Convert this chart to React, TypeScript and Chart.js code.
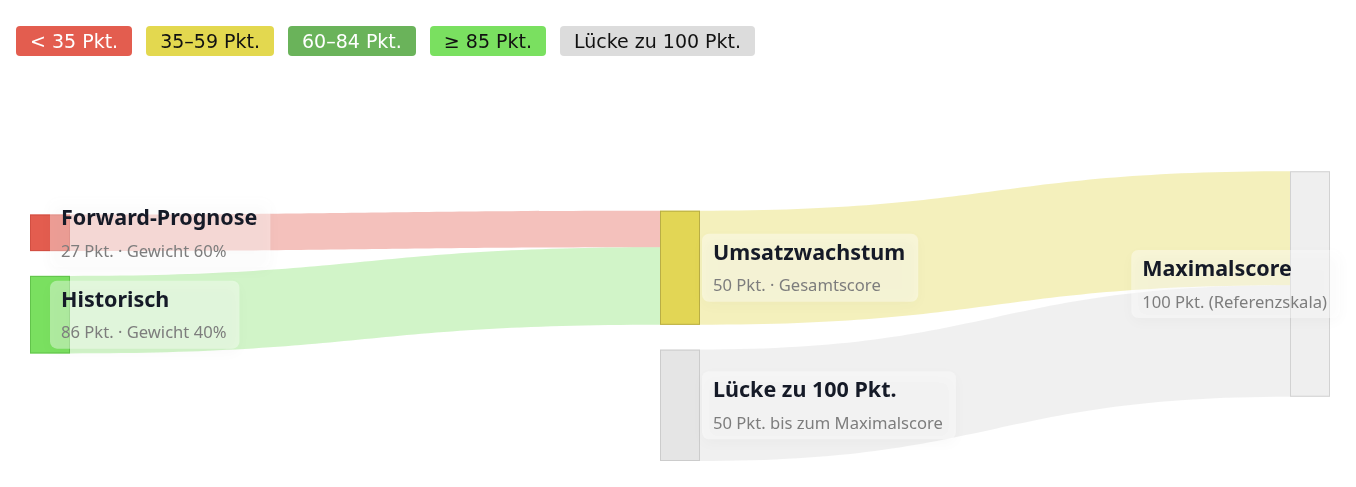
import React, { useEffect, useRef } from 'react';
import { Chart, registerables } from 'chart.js';

Chart.register(...registerables);

// legend badges
const legendLabels = ['< 35 Pkt.', '35–59 Pkt.', '60–84 Pkt.', '≥ 85 Pkt.', 'Lücke zu 100 Pkt.'];

// sankey nodes
const nodeIds = ['forward', 'historisch', 'umsatz', 'luecke', 'max'];
const nodeTitles = ['Forward-Prognose', 'Historisch', 'Umsatzwachstum', 'Lücke zu 100 Pkt.', 'Maximalscore'];
const nodeSubtitles = [
    '27 Pkt. · Gewicht 60%',
    '86 Pkt. · Gewicht 40%',
    '50 Pkt. · Gesamtscore',
    '50 Pkt. bis zum Maximalscore',
    '100 Pkt. (Referenzskala)',
];
const nodeColumns = [0, 0, 1, 1, 2];

// sankey flows (weighted points)
const flowSources = ['forward', 'historisch', 'umsatz', 'luecke'];
const flowTargets = ['umsatz', 'umsatz', 'max', 'max'];
const flowValues = [16.2, 34.4, 50.6, 49.4];

const legendStyles = [
    {bg: '#e35d4f', color: '#ffffff'},
    {bg: '#e3d84f', color: '#111111'},
    {bg: '#6ab35a', color: '#ffffff'},
    {bg: '#7ae060', color: '#111111'},
    {bg: '#dcdcdc', color: '#111111'},
];

const nodeStyles: Record<string, { fill: string; border: string; flow: string }> = {
    forward: {fill: '#e35d4f', border: '#d24f42', flow: 'rgba(227, 93, 79, 0.38)'},
    historisch: {fill: '#7ae060', border: '#62c44b', flow: 'rgba(122, 224, 96, 0.35)'},
    umsatz: {fill: '#e2d655', border: '#b9ae45', flow: 'rgba(227, 216, 79, 0.38)'},
    luecke: {fill: '#e5e5e5', border: '#cccccc', flow: 'rgba(220, 220, 220, 0.42)'},
    max: {fill: '#efefef', border: '#d2d2d2', flow: 'rgba(220, 220, 220, 0.42)'},
};

const NODE_WIDTH = 40;
const NODE_PADDING = 11; // in value units
const Y_MAX = 157;
const columnAlign = ['center', 'end', 'center'];
const TITLE_FONT = 'bold 21.5px "Noto Sans"';
const SUB_FONT = '16.6px "Noto Sans"';

const sankeyPlugin = {
    id: 'sankeyDraw',
    afterDraw(chart: any) {
        const ctx: CanvasRenderingContext2D = chart.ctx;
        const xs = chart.scales.x;
        const ys = chart.scales.y;

        const nodes = nodeIds.map((id, i) => {
            let inSum = 0;
            let outSum = 0;
            flowValues.forEach((v, k) => {
                if (flowTargets[k] === id) inSum += v;
                if (flowSources[k] === id) outSum += v;
            });
            return {id, i, col: nodeColumns[i], value: Math.max(inSum, outSum), v0: 0, v1: 0, x0: 0, x1: 0, y0: 0, y1: 0};
        });
        const byId: Record<string, any> = {};
        nodes.forEach(n => (byId[n.id] = n));

        const cols = Array.from(new Set(nodeColumns)).sort((a, b) => a - b);
        const lastCol = cols[cols.length - 1];
        cols.forEach(c => {
            const list = nodes.filter(n => n.col === c);
            const total = list.reduce((s, n) => s + n.value, 0) + NODE_PADDING * (list.length - 1);
            const align = columnAlign[c] || 'center';
            let start = align === 'end' ? Y_MAX - total : align === 'start' ? 0 : (Y_MAX - total) / 2;
            list.forEach(n => {
                n.v0 = start;
                n.v1 = start + n.value;
                start = n.v1 + NODE_PADDING;
            });
        });
        nodes.forEach(n => {
            n.x0 = xs.getPixelForValue(n.col);
            n.x1 = n.x0 + NODE_WIDTH;
            n.y0 = ys.getPixelForValue(n.v0);
            n.y1 = ys.getPixelForValue(n.v1);
        });

        // flow offsets
        const flows = flowValues.map((v, k) => ({s: byId[flowSources[k]], t: byId[flowTargets[k]], v, sv0: 0, tv0: 0}));
        nodes.forEach(n => {
            let off = n.v0;
            flows.filter(f => f.s === n).sort((a, b) => a.t.v0 - b.t.v0).forEach(f => {
                f.sv0 = off;
                off += f.v;
            });
            off = n.v0;
            flows.filter(f => f.t === n).sort((a, b) => a.s.v0 - b.s.v0).forEach(f => {
                f.tv0 = off;
                off += f.v;
            });
        });

        ctx.save();
        flows.forEach(f => {
            const sy0 = ys.getPixelForValue(f.sv0);
            const sy1 = ys.getPixelForValue(f.sv0 + f.v);
            const ty0 = ys.getPixelForValue(f.tv0);
            const ty1 = ys.getPixelForValue(f.tv0 + f.v);
            const x0 = f.s.x1;
            const x1 = f.t.x0;
            const mx = (x0 + x1) / 2;
            ctx.beginPath();
            ctx.moveTo(x0, sy0);
            ctx.bezierCurveTo(mx, sy0, mx, ty0, x1, ty0);
            ctx.lineTo(x1, ty1);
            ctx.bezierCurveTo(mx, ty1, mx, sy1, x0, sy1);
            ctx.closePath();
            ctx.fillStyle = nodeStyles[f.s.id].flow;
            ctx.fill();
        });

        nodes.forEach(n => {
            const st = nodeStyles[n.id];
            ctx.fillStyle = st.fill;
            ctx.fillRect(n.x0, n.y0, NODE_WIDTH, n.y1 - n.y0);
            ctx.strokeStyle = st.border;
            ctx.lineWidth = 1;
            ctx.strokeRect(n.x0 + 0.5, n.y0 + 0.5, NODE_WIDTH - 1, n.y1 - n.y0 - 1);
        });

        // labels
        nodes.forEach(n => {
            ctx.font = TITLE_FONT;
            const tw = ctx.measureText(nodeTitles[n.i]).width;
            ctx.font = SUB_FONT;
            const sw = ctx.measureText(nodeSubtitles[n.i]).width;
            const boxW = Math.max(tw, sw) + 24;
            const boxH = 68;
            const cy = (n.y0 + n.y1) / 2;
            let bx;
            if (n.col === lastCol) bx = n.x1 + 10 - boxW;
            else if (n.col === 0) bx = n.x0 + NODE_WIDTH / 2;
            else bx = n.x1 + 2;
            const by = cy - boxH / 2;

            ctx.save();
            ctx.shadowColor = 'rgba(0, 0, 0, 0.07)';
            ctx.shadowBlur = 14;
            ctx.shadowOffsetY = 4;
            ctx.fillStyle = 'rgba(255, 255, 255, 0.4)';
            ctx.beginPath();
            ctx.roundRect(bx, by, boxW, boxH, 7);
            ctx.fill();
            ctx.restore();

            ctx.textBaseline = 'middle';
            ctx.textAlign = 'left';
            ctx.fillStyle = '#151a27';
            ctx.font = TITLE_FONT;
            ctx.fillText(nodeTitles[n.i], bx + 11, cy - 14);
            ctx.fillStyle = '#7d7d7d';
            ctx.font = SUB_FONT;
            ctx.fillText(nodeSubtitles[n.i], bx + 11, cy + 19);
        });
        ctx.restore();
    },
};

export default function App() {
    const canvasRef = useRef<HTMLCanvasElement>(null);

    useEffect(() => {
        if (!canvasRef.current) return;
        const chart = new Chart(canvasRef.current, {
            type: 'scatter',
            data: {datasets: []},
            options: {
                animation: false,
                responsive: true,
                maintainAspectRatio: false,
                layout: {padding: {left: 22, right: 58, top: 99, bottom: 18}},
                scales: {
                    x: {type: 'linear', min: 0, max: 2, display: false},
                    y: {type: 'linear', min: 0, max: Y_MAX, reverse: true, display: false},
                },
                plugins: {
                    legend: {display: false},
                    tooltip: {enabled: false},
                },
            },
            plugins: [sankeyPlugin],
        });
        return () => chart.destroy();
    }, []);

    return (
        <div style={{position: 'relative', height: 471}}>
            <div style={{position: 'absolute', inset: 0}}>
                <canvas ref={canvasRef}></canvas>
            </div>
            <div style={{position: 'absolute', left: 8, top: 18, display: 'flex', gap: 14}}>
                {legendLabels.map((label, i) => (
                    <span key={label} style={{
                        display: 'inline-block',
                        height: 30,
                        lineHeight: '30px',
                        padding: '0 14px',
                        borderRadius: 4,
                        background: legendStyles[i].bg,
                        color: legendStyles[i].color,
                        fontFamily: '"DejaVu Sans", sans-serif',
                        fontSize: 19,
                    }}>{label}</span>
                ))}
            </div>
        </div>
    );
}
